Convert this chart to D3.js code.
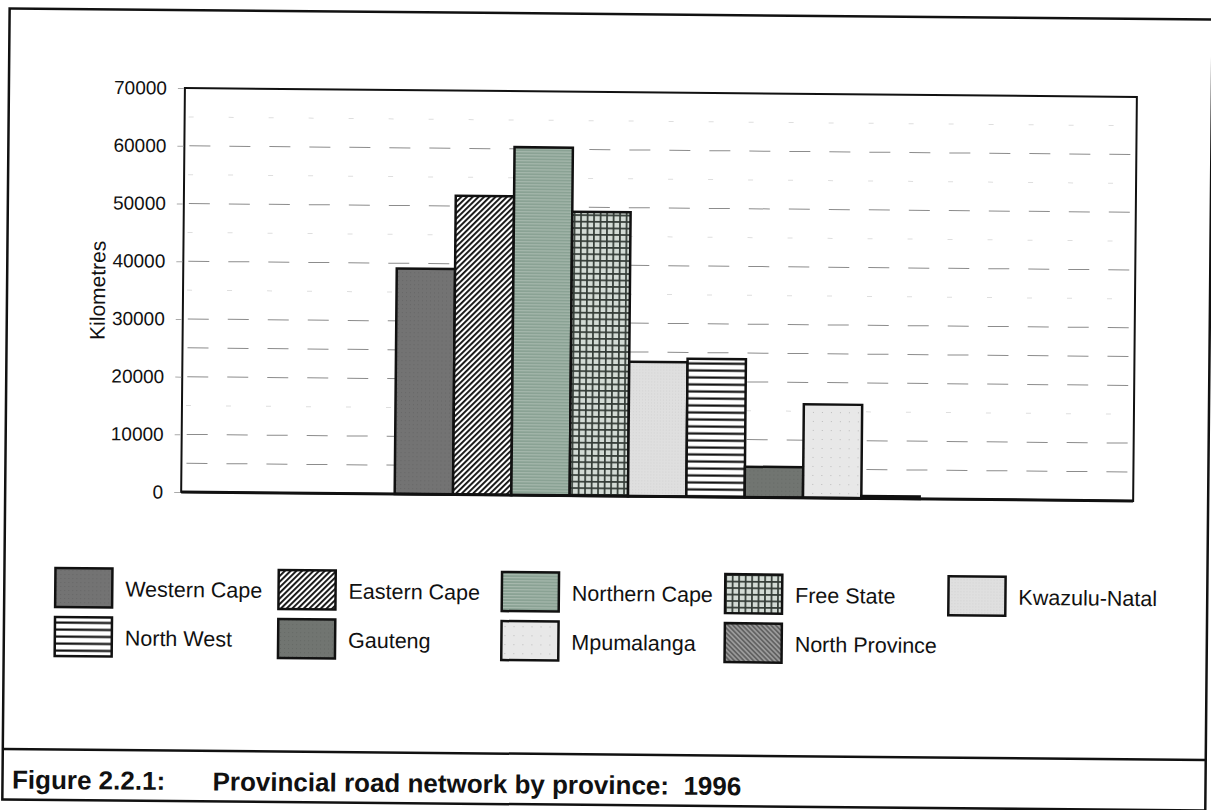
<!DOCTYPE html>
<html>
<head>
<meta charset="utf-8">
<script src="https://cdn.jsdelivr.net/npm/d3@7"></script>
<style>
 body { margin: 0; background: #fff; }
 text { font-family: "Liberation Sans", Arial, Helvetica, sans-serif; fill: #111; }
</style>
</head>
<body>
<svg id="chart" width="1211" height="810"></svg>
<script>
// values (km)
var provinces = ["Western Cape", "Eastern Cape", "Northern Cape", "Free State", "Kwazulu-Natal",
                 "North West", "Gauteng", "Mpumalanga", "North Province"];
var roadKm = [39100, 51800, 60300, 49200, 23300, 23900, 5300, 16200, 400];
var category = ["1996"];
var yTicks = [0, 10000, 20000, 30000, 40000, 50000, 60000, 70000];
var gridMajor = [5000, 10000, 20000, 25000, 30000, 40000, 50000, 60000];
var gridFaint = [15000, 35000, 45000, 55000, 65000];
var yLabel = "Kilometres";
var captionNumber = "Figure 2.2.1:";
var captionText = "Provincial road network by province:  1996";

var width = 1211,
    height = 810,
    plot = {left: 182, top: 92, right: 1134, bottom: 496};

var svg = d3.select("#chart");
var defs = svg.append("defs");

// the scan is tilted about half a degree, so is the drawing
var root = svg.append("g")
  .attr("transform", "rotate(0.53," + width / 2 + "," + height / 2 + ")");

// fill patterns, one per province
function pattern(id, w, h, transform) {
  var p = defs.append("pattern")
    .attr("id", id)
    .attr("patternUnits", "userSpaceOnUse")
    .attr("width", w)
    .attr("height", h);
  if (transform) p.attr("patternTransform", transform);
  return p;
}

var p0 = pattern("p0", 4, 4);
p0.append("rect").attr("width", 4).attr("height", 4).attr("fill", "#737373");
p0.append("rect").attr("x", 1).attr("y", 2).attr("width", 1).attr("height", 1).attr("fill", "#666");

var p1 = pattern("p1", 4, 4, "rotate(45)");
p1.append("rect").attr("width", 4).attr("height", 4).attr("fill", "#fff");
p1.append("rect").attr("width", 1.9).attr("height", 4).attr("fill", "#111");

var p2 = pattern("p2", 4, 3);
p2.append("rect").attr("width", 4).attr("height", 3).attr("fill", "#8aa294");
p2.append("rect").attr("y", 2).attr("width", 4).attr("height", 0.8).attr("fill", "#b3c3b9");

var p3 = pattern("p3", 6.5, 6.5);
p3.append("rect").attr("width", 6.5).attr("height", 6.5).attr("fill", "#d3dbd5");
p3.append("rect").attr("width", 6.5).attr("height", 1.7).attr("fill", "#333b36");
p3.append("rect").attr("width", 1.7).attr("height", 6.5).attr("fill", "#333b36");

var p4 = pattern("p4", 3, 3);
p4.append("rect").attr("width", 3).attr("height", 3).attr("fill", "#dfdfdf");
p4.append("rect").attr("width", 1).attr("height", 1).attr("fill", "#d2d2d2");

var p5 = pattern("p5", 7, 7);
p5.append("rect").attr("width", 7).attr("height", 7).attr("fill", "#fff");
p5.append("rect").attr("y", 4.5).attr("width", 7).attr("height", 2.2).attr("fill", "#111");

var p6 = pattern("p6", 4, 4);
p6.append("rect").attr("width", 4).attr("height", 4).attr("fill", "#717571");
p6.append("rect").attr("x", 2).attr("y", 1).attr("width", 1).attr("height", 1).attr("fill", "#656965");

var p7 = pattern("p7", 9, 9);
p7.append("rect").attr("width", 9).attr("height", 9).attr("fill", "#e8e8e8");
p7.append("rect").attr("x", 3).attr("y", 5).attr("width", 1).attr("height", 1).attr("fill", "#bbb");

var p8 = pattern("p8", 3.4, 3.4, "rotate(-45)");
p8.append("rect").attr("width", 3.4).attr("height", 3.4).attr("fill", "#9a9a9a");
p8.append("rect").attr("width", 1.7).attr("height", 3.4).attr("fill", "#626262");

var fills = provinces.map(function(d, i) { return "url(#p" + i + ")"; });

// scales
var y = d3.scaleLinear()
  .domain([0, 70000])
  .range([plot.bottom, plot.top]);

var x0 = d3.scaleBand()
  .domain(category)
  .range([plot.left, plot.right])
  .paddingOuter(0.4067);

var x1 = d3.scaleBand()
  .domain(provinces)
  .range([0, x0.bandwidth()]);

// outer frame and caption box
root.append("rect")
  .attr("x", 6).attr("y", 14)
  .attr("width", 1203).attr("height", 791)
  .attr("fill", "none")
  .attr("stroke", "#111")
  .attr("stroke-width", 2.5);

root.append("line")
  .attr("x1", 6).attr("x2", 1209)
  .attr("y1", 754.5).attr("y2", 754.5)
  .attr("stroke", "#111")
  .attr("stroke-width", 2.5);

// grid lines
root.append("g")
  .selectAll("line")
  .data(gridFaint)
  .enter().append("line")
  .attr("x1", plot.left + 4).attr("x2", plot.right)
  .attr("y1", function(d) { return y(d); })
  .attr("y2", function(d) { return y(d); })
  .attr("stroke", "#dedede")
  .attr("stroke-width", 1)
  .attr("stroke-dasharray", "5,35");

root.append("g")
  .selectAll("line")
  .data(gridMajor)
  .enter().append("line")
  .attr("x1", plot.left + 5).attr("x2", plot.right)
  .attr("y1", function(d) { return y(d); })
  .attr("y2", function(d) { return y(d); })
  .attr("stroke", "#8c8c8c")
  .attr("stroke-width", 1)
  .attr("stroke-dasharray", "21,19");

// bars
root.append("g")
  .selectAll("rect")
  .data(roadKm)
  .enter().append("rect")
  .attr("x", function(d, i) { return x0(category[0]) + x1(provinces[i]); })
  .attr("y", function(d) { return y(d); })
  .attr("width", x1.bandwidth())
  .attr("height", function(d) { return y(0) - y(d); })
  .attr("fill", function(d, i) { return fills[i]; })
  .attr("stroke", "#111")
  .attr("stroke-width", 2.5);

// plot frame
root.append("rect")
  .attr("x", plot.left).attr("y", plot.top)
  .attr("width", plot.right - plot.left)
  .attr("height", plot.bottom - plot.top)
  .attr("fill", "none")
  .attr("stroke", "#111")
  .attr("stroke-width", 2);

root.append("line")
  .attr("x1", plot.left).attr("x2", plot.right)
  .attr("y1", plot.bottom).attr("y2", plot.bottom)
  .attr("stroke", "#111")
  .attr("stroke-width", 3);

// y axis
var yAxis = root.append("g")
  .attr("transform", "translate(" + (plot.left - 1) + ",0)")
  .call(d3.axisLeft(y).tickValues(yTicks).tickSize(6).tickPadding(11).tickFormat(d3.format("d")));

yAxis.select(".domain").remove();
yAxis.selectAll(".tick line").attr("stroke", "#aaa");
yAxis.selectAll(".tick text")
  .attr("font-family", "\"Liberation Sans\", Arial, sans-serif")
  .attr("font-size", 19)
  .attr("fill", "#111");

root.append("text")
  .attr("transform", "translate(104,295) rotate(-90)")
  .attr("text-anchor", "middle")
  .attr("font-size", 21)
  .text(yLabel);

// legend
var legend = root.append("g")
  .selectAll("g")
  .data(provinces)
  .enter().append("g")
  .attr("transform", function(d, i) {
    var col = i % 5, row = Math.floor(i / 5);
    return "translate(" + (57 + col * 223.3) + "," + (573 + row * 49) + ")";
  });

legend.append("rect")
  .attr("width", 57)
  .attr("height", 39)
  .attr("fill", function(d, i) { return fills[i]; })
  .attr("stroke", "#111")
  .attr("stroke-width", 2.5);

legend.append("text")
  .attr("x", 70)
  .attr("y", 28)
  .attr("font-size", 21.5)
  .text(function(d) { return d; });

// caption
root.append("text")
  .attr("x", 15.5)
  .attr("y", 794)
  .attr("font-size", 26)
  .attr("font-weight", "bold")
  .text(captionNumber);

root.append("text")
  .attr("x", 216)
  .attr("y", 794)
  .attr("font-size", 26)
  .attr("font-weight", "bold")
  .style("white-space", "pre")
  .text(captionText);
</script>
</body>
</html>
